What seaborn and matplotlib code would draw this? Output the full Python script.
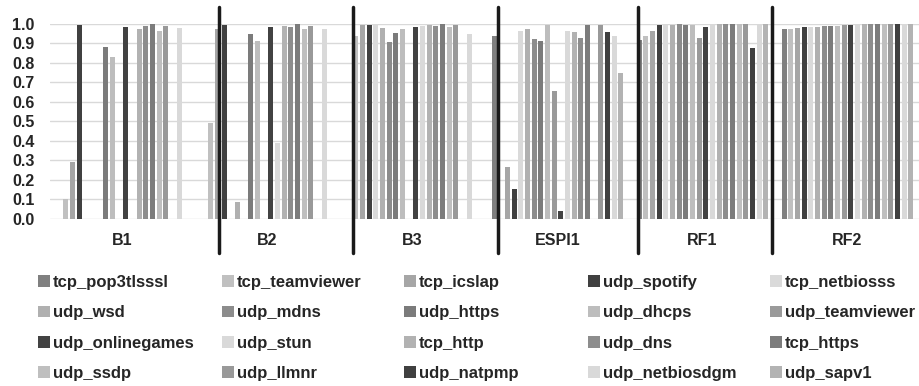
import matplotlib
matplotlib.use("Agg")
import matplotlib.pyplot as plt
from matplotlib.lines import Line2D
from matplotlib.patches import Patch
import pandas as pd
import seaborn as sns

# data
groups = ["B1", "B2", "B3", "ESPI1", "RF1", "RF2"]
series = [
    "tcp_pop3tlsssl", "tcp_teamviewer", "tcp_icslap", "udp_spotify", "tcp_netbiosss",
    "udp_wsd", "udp_mdns", "udp_https", "udp_dhcps", "udp_teamviewer",
    "udp_onlinegames", "udp_stun", "tcp_http", "udp_dns", "tcp_https",
    "udp_ssdp", "udp_llmnr", "udp_natpmp", "udp_netbiosdgm", "udp_sapv1",
]
b1 = [0, 0.10, 0.29, 0.995, 0, 0, 0, 0.88, 0.83, 0,
      0.985, 0, 0.973, 0.988, 0.998, 0.962, 0.988, 0, 0.981, 0]
b2 = [0, 0.49, 0.973, 0.995, 0, 0.084, 0, 0.95, 0.911, 0,
      0.985, 0.39, 0.99, 0.986, 0.998, 0.973, 0.991, 0, 0.974, 0]
b3 = [0, 0.94, 0.995, 0.995, 1.0, 0.978, 0.909, 0.952, 0.974, 0,
      0.986, 0.988, 0.997, 0.99, 0.998, 0.983, 0.995, 0, 0.947, 0]
espi1 = [0.94, 0, 0.267, 0.152, 0.966, 0.974, 0.923, 0.914, 0.995, 0.658,
         0.041, 0.964, 0.957, 0.926, 0.995, 0, 0.995, 0.957, 0.94, 0.75]
rf1 = [0.918, 0.938, 0.966, 0.995, 0.995, 0.995, 1.0, 0.993, 0.993, 0.926,
       0.986, 0.998, 0.998, 0.998, 0.998, 0.998, 0.998, 0.875, 0.998, 0.998]
rf2 = [0.973, 0.973, 0.981, 0.986, 0.986, 0.986, 0.99, 0.99, 0.991, 0.993,
       0.995, 0.998, 0.998, 1.0, 1.0, 1.0, 1.0, 1.0, 1.0, 1.0]
y_ticks = [0.0, 0.1, 0.2, 0.3, 0.4, 0.5, 0.6, 0.7, 0.8, 0.9, 1.0]

colors = [
    "#808080", "#c0c0c0", "#a6a6a6", "#404040", "#dadada",
    "#b0b0b0", "#8c8c8c", "#7b7b7b", "#bdbdbd", "#9a9a9a",
    "#424242", "#d9d9d9", "#b2b2b2", "#8d8d8d", "#7c7c7c",
    "#bfbfbf", "#999999", "#404040", "#d9d9d9", "#b3b3b3",
]

rows = []
for g, vals in zip(groups, [b1, b2, b3, espi1, rf1, rf2]):
    for s, v in zip(series, vals):
        rows.append({"group": g, "series": s, "score": v})
df = pd.DataFrame(rows)

# layout in pixels of the 919x386 picture
W, H = 919, 386
sep_x = [219, 353, 498, 638, 772]
leg_x = [38, 222, 404, 588, 770]

sns.set_style("white")
plt.rcParams["font.family"] = ["Liberation Sans", "DejaVu Sans"]
plt.rcParams["font.weight"] = "bold"

fig = plt.figure(figsize=(W / 100, H / 100), dpi=100)
ax = fig.add_axes([50 / W, 1 - 218.7 / H, 869 / W, (218.7 - 24) / H])

sns.barplot(data=df, x="group", y="score", hue="series", order=groups,
            hue_order=series, palette=colors, saturation=1, width=0.92,
            gap=0.25, errorbar=None, linewidth=0, legend=False, ax=ax)

ax.set_xlim(-0.5, -0.5 + 869 / 145)
ax.set_ylim(0, 1.0)
ax.set_yticks(y_ticks)
ax.set_yticklabels([f"{t:.1f}" for t in y_ticks], fontsize=11.5, fontweight="bold")
ax.tick_params(axis="y", length=0, pad=11)
ax.tick_params(axis="x", length=0, pad=10, labelsize=11.5)
for lab in ax.get_xticklabels():
    lab.set_fontweight("bold")
ax.set_xlabel("")
ax.set_ylabel("")
ax.grid(axis="y", color="#d9d9d9", linewidth=1.0)
ax.set_axisbelow(True)
for side in ["top", "right", "left", "bottom"]:
    ax.spines[side].set_visible(False)

# thick separators between groups
for x in sep_x:
    fig.add_artist(Line2D([x / W, x / W], [1 - 7 / H, 1 - 253 / H],
                          transform=fig.transFigure, color="#1a1a1a", lw=2.5))

# legend: 4 rows x 5 columns, filled row by row
handles = [Patch(facecolor=c, edgecolor="none") for c in colors]
for col in range(5):
    idx = [r * 5 + col for r in range(4)]
    fig.legend([handles[i] for i in idx], [series[i] for i in idx],
               loc="upper left", bbox_to_anchor=(leg_x[col] / W, 1 - 275 / H),
               frameon=False, borderpad=0, borderaxespad=0,
               handlelength=0.7, handleheight=0.7, handletextpad=0.2,
               labelspacing=0.92, prop={"size": 12, "weight": "bold"})

fig.savefig("out.png", dpi=100)
